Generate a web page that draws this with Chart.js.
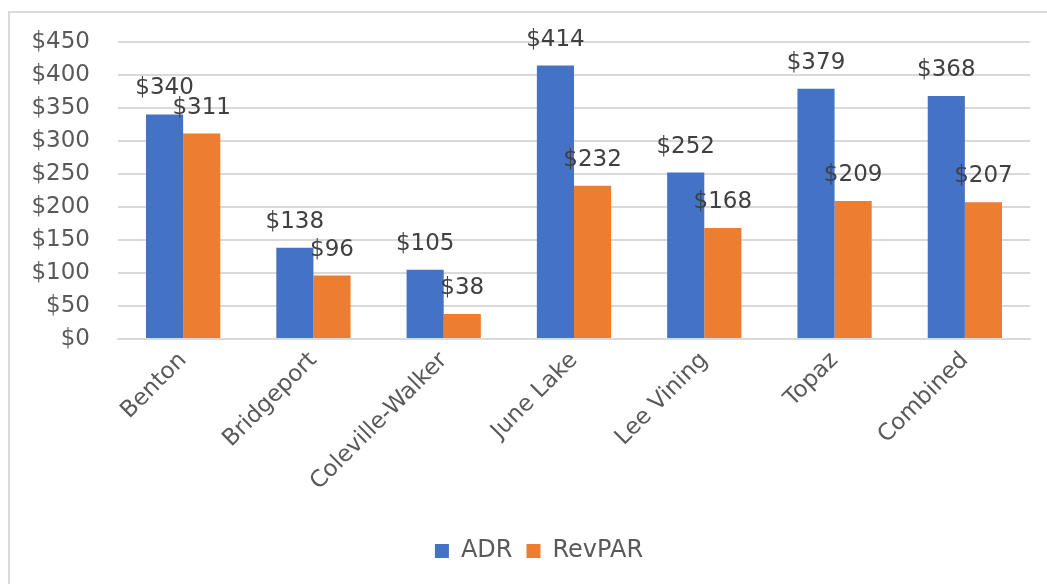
<!DOCTYPE html>
<html>
<head>
<meta charset="utf-8">
<script src="https://cdn.jsdelivr.net/npm/chart.js@4"></script>
<style>
  html, body { margin: 0; padding: 0; background: #fff; overflow: hidden; }
  #wrap { position: relative; width: 1047px; height: 584px; }
  #frame { position: absolute; left: 8px; top: 11px; width: 1100px; height: 600px;
           border-left: 2px solid #d9d9d9; border-top: 2px solid #d9d9d9; }
  canvas { position: absolute; left: 0; top: 0; }
</style>
</head>
<body>
<div id="wrap">
  <div id="frame"></div>
  <canvas id="chart" width="1047" height="584"></canvas>
</div>
<script>
const categories = ["Benton", "Bridgeport", "Coleville-Walker", "June Lake", "Lee Vining", "Topaz", "Combined"];
const adr = [340, 138, 105, 414, 252, 379, 368];
const revpar = [311, 96, 38, 232, 168, 209, 207];

const fontFam = "'DejaVu Sans', sans-serif";

//draws the value labels above every bar
const barLabels = {
  id: "barLabels",
  afterDatasetsDraw(chart) {
    const ctx = chart.ctx;
    ctx.save();
    ctx.font = "23px " + fontFam;
    ctx.fillStyle = "#404040";
    ctx.textAlign = "center";
    ctx.textBaseline = "middle";
    chart.data.datasets.forEach((ds, i) => {
      chart.getDatasetMeta(i).data.forEach((bar, j) => {
        ctx.fillText("$" + ds.data[j], bar.x, bar.y - 26);
      });
    });
    ctx.restore();
  },
};

//legend sits a bit right of the canvas middle in the original
const shiftLegend = {
  id: "shiftLegend",
  afterLayout(chart) {
    const lg = chart.legend;
    if (!lg) return;
    lg.left = 48;
    lg.width = lg.right - lg.left;
  },
};

const config = {
  type: "bar",
  data: {
    labels: categories,
    datasets: [
      { label: "ADR", data: adr, backgroundColor: "#4472C4" },
      { label: "RevPAR", data: revpar, backgroundColor: "#ED7D31" },
    ],
  },
  options: {
    responsive: false,
    animation: false,
    layout: { padding: { left: 0, right: 17, top: 37, bottom: 11 } },
    datasets: { bar: { categoryPercentage: 0.57, barPercentage: 1.0 } },
    plugins: {
      tooltip: { enabled: false },
      legend: {
        position: "bottom",
        labels: {
          boxWidth: 14,
          boxHeight: 14,
          padding: 14,
          color: "#595959",
          font: { family: fontFam, size: 24 },
        },
      },
    },
    scales: {
      x: {
        grid: { display: false, drawTicks: false },
        border: { color: "#d9d9d9", width: 2 },
        ticks: {
          color: "#595959",
          font: { family: fontFam, size: 23 },
          minRotation: 45,
          maxRotation: 45,
          padding: 8,
        },
        afterFit: (s) => { s.height = 186; },
      },
      y: {
        min: 0,
        max: 450,
        grid: { color: "#d9d9d9", lineWidth: 2, drawTicks: false },
        border: { display: false },
        ticks: {
          stepSize: 50,
          padding: 28,
          color: "#595959",
          font: { family: fontFam, size: 23 },
          callback: (v) => "$" + v,
        },
        afterFit: (s) => { s.width = 118; },
      },
    },
  },
  plugins: [barLabels, shiftLegend],
};

new Chart(document.getElementById("chart"), config);
</script>
</body>
</html>
